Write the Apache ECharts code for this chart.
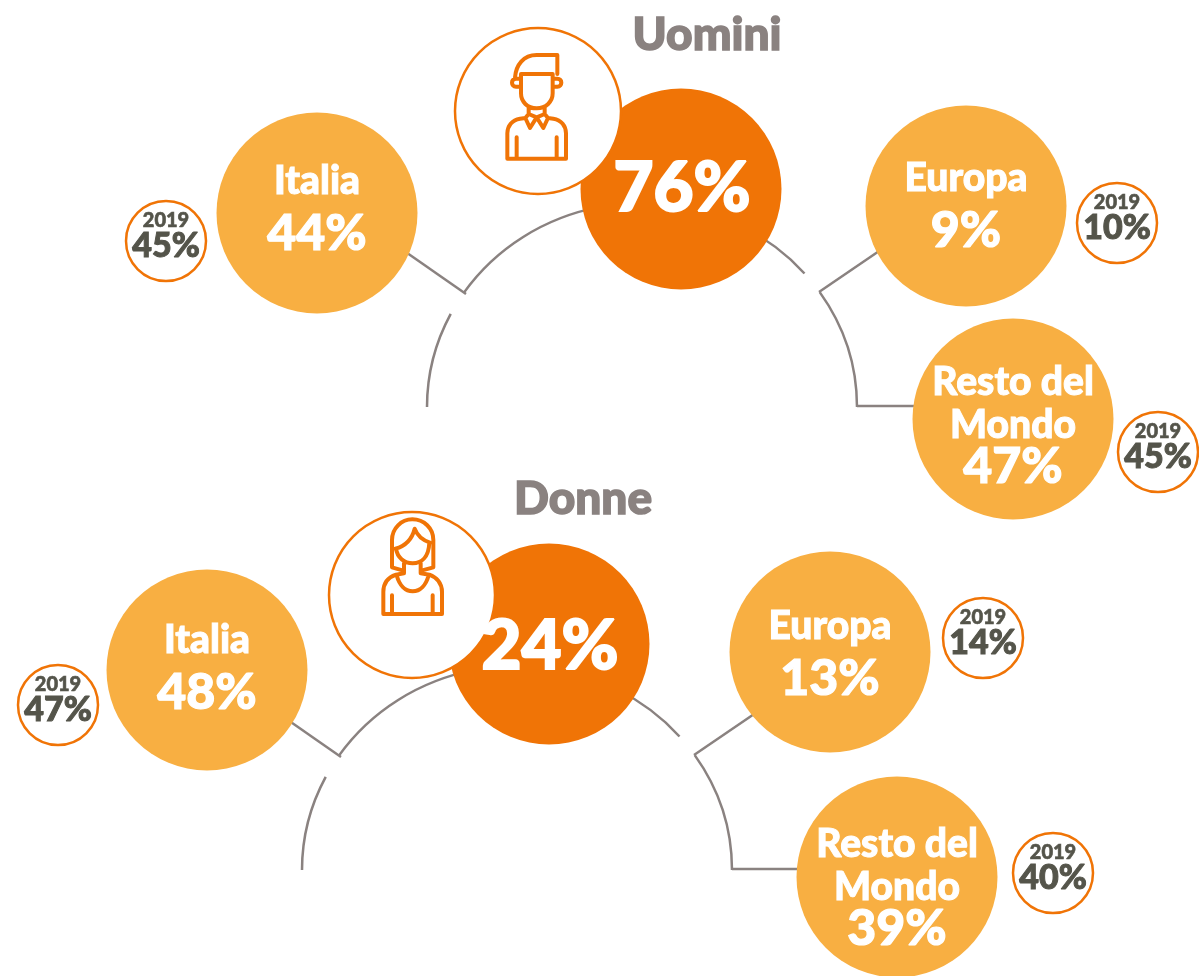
<!DOCTYPE html>
<html>
<head>
<meta charset="utf-8">
<title>Uomini e Donne</title>
<script src="https://cdn.jsdelivr.net/npm/echarts@6/dist/echarts.min.js"></script>
<style>
  html, body { margin: 0; padding: 0; background: #fff; }
  #chart { width: 1199px; height: 976px; }
</style>
</head>
<body>
<div id="chart"></div>
<script>
// valori
const aree = ['Italia', 'Europa', 'Resto del\nMondo'];
const uominiTotale = 76;
const donneTotale = 24;
const uominiValori = [44, 9, 47];
const donneValori = [48, 13, 39];
const uomini2019 = [45, 10, 45];
const donne2019 = [47, 14, 40];

// posizioni delle bolle (px)
const uominiPos = [[317, 213], [966, 206], [1013, 419]];
const donnePos = [[207, 670], [830, 652], [897, 877]];
const uomini2019Pos = [[166, 241], [1117, 223], [1158, 452]];
const donne2019Pos = [[58, 705], [983, 638], [1053, 873]];
const totaliPos = [[681, 189], [549, 644]];
const iconePos = [[538, 111], [412, 595]];
// spostamento verticale delle etichette
const uominiShift = [-4, 0, 5];
const donneShift = [-2, 2, 9];

const ORANGE = '#f07406';
const LIGHT = '#f8af42';
const GREY = '#8a8280';
const DARK = '#54544a';
const FONT = 'Lato, sans-serif';

const manIcon = 'M352 165 L352 222 M352 165 L290 165 C250 165 228 195 225 232 M243 222 L338 222 L338 280 C338 305 318 325 290 325 C262 325 243 305 243 280 Z ' +
  'M243 236 L228 236 C212 236 212 260 228 260 L243 260 M338 236 L352 236 C368 236 368 260 352 260 L338 260 ' +
  'M266 325 L266 342 M314 325 L314 342 M266 342 L290 352 L314 342 M266 342 L256 354 L270 384 L290 352 L310 384 L324 354 L314 342 ' +
  'M256 354 L240 356 C216 360 202 378 202 400 L202 476 L378 476 L378 400 C378 378 364 360 340 356 L324 354 ' +
  'M230 412 L230 476 M350 412 L350 476';
const womanIcon = 'M250 272 L216 262 L216 180 C216 145 244 118 277 118 C312 118 340 145 340 180 L340 262 L304 272 ' +
  'M226 206 C256 198 276 178 284 146 C292 168 306 180 330 188 ' +
  'M228 206 C232 232 252 250 278 250 C304 250 326 232 328 188 ' +
  'M252 250 L252 280 M302 250 L302 280 ' +
  'M252 280 L228 284 C204 292 190 310 190 336 L190 402 L366 402 L366 336 C366 310 350 292 328 284 L302 280 ' +
  'M230 286 C238 316 256 334 278 334 C300 334 318 316 326 286 ' +
  'M216 346 L216 402 M338 346 L338 402';

function seg(a, b) {
  return {
    type: 'line', z: 1,
    shape: { x1: a[0], y1: a[1], x2: b[0], y2: b[1] },
    style: { stroke: GREY, lineWidth: 2.5 }
  };
}
// tratto di ellisse fra due punti (px), centro del gruppo Uomini 642,407
function arco(a, b, dx, dy) {
  const ang = p => Math.atan2((p[1] - 407) / 204, (p[0] - 642) / 215);
  let s = ang(a);
  let e = ang(b);
  if (e < s) e += Math.PI * 2;
  return {
    type: 'arc', z: 1,
    x: 642 + dx, y: 407 + dy, scaleY: 204 / 215,
    shape: { cx: 0, cy: 0, r: 215, startAngle: s, endAngle: e, clockwise: true },
    style: { fill: null, stroke: GREY, lineWidth: 2.5 }
  };
}
// archi e raccordi di un gruppo, dx/dy rispetto a Uomini
function rami(dx, dy) {
  return [
    arco([427, 407], [451, 314], dx, dy),
    arco([465, 293], [600, 207], dx, dy),
    arco([750, 214], [805, 273], dx, dy),
    arco([820, 292], [857, 407], dx, dy),
    seg([400 + dx, 248 + dy], [466 + dx, 294 + dy]),
    seg([885 + dx, 247 + dy], [819 + dx, 292 + dy]),
    seg([857 + dx, 406 + dy], [925 + dx, 406 + dy])
  ];
}
function icona(d, pos, ox, oy, box) {
  return {
    type: 'custom', z: 10, silent: true,
    data: [pos],
    renderItem: (params, api) => {
      const c = api.coord([api.value(0), api.value(1)]);
      return {
        type: 'path',
        shape: {
          pathData: d, layout: 'cover',
          x: c[0] + (box[0] - ox) / 3, y: c[1] + (box[1] - oy) / 3,
          width: (box[2] - box[0]) / 3, height: (box[3] - box[1]) / 3
        },
        style: { fill: 'none', stroke: ORANGE, lineWidth: 4, lineJoin: 'round', lineCap: 'round' }
      };
    }
  };
}
function titolo(t, x, y) {
  return {
    type: 'text', z: 10, x: x, y: y,
    style: { text: t, fill: GREY, stroke: GREY, lineWidth: 1.5, font: '900 46px ' + FONT, textAlign: 'center', textVerticalAlign: 'middle' }
  };
}

function bolle(pos, valori, shift) {
  return pos.map((p, i) => ({
    value: [p[0], p[1]], name: aree[i], pct: valori[i],
    label: { offset: [0, shift[i]] }
  }));
}
function piccole(pos, valori) {
  return pos.map((p, i) => ({ value: [p[0], p[1]], pct: valori[i] }));
}
function bianco(size, lh, bordo) {
  return { color: '#fff', fontFamily: FONT, fontWeight: 900, fontSize: size, lineHeight: lh, textBorderColor: '#fff', textBorderWidth: bordo };
}
function scuro(size, lh, bordo) {
  return { color: DARK, fontFamily: FONT, fontWeight: 900, fontSize: size, lineHeight: lh, textBorderColor: DARK, textBorderWidth: bordo };
}

const chart = echarts.init(document.getElementById('chart'));
chart.setOption({
  animation: false,
  backgroundColor: '#fff',
  grid: { left: 0, right: 0, top: 0, bottom: 0 },
  xAxis: { type: 'value', min: 0, max: 1199, show: false },
  yAxis: { type: 'value', min: 0, max: 976, inverse: true, show: false },
  graphic: {
    elements: [
      ...rami(0, 0),
      ...rami(-125, 463),
      titolo('Uomini', 707, 35),
      titolo('Donne', 583, 499)
    ]
  },
  series: [
    {
      type: 'scatter', z: 3, clip: false, silent: true,
      symbol: 'circle', symbolSize: 201,
      itemStyle: { color: ORANGE, opacity: 1 },
      data: totaliPos
    },
    {
      type: 'scatter', z: 4, clip: false, silent: true,
      symbol: 'circle', symbolSize: 166,
      itemStyle: { color: '#fff', borderColor: ORANGE, borderWidth: 2.5, opacity: 1 },
      data: iconePos
    },
    icona(manIcon, iconePos[0], 294, 333, [202, 165, 378, 476]),
    icona(womanIcon, iconePos[1], 276, 345, [190, 118, 366, 402]),
    {
      // testo del totale sopra al cerchio dell'icona
      type: 'scatter', z: 5, clip: false, silent: true,
      symbol: 'circle', symbolSize: 1,
      itemStyle: { color: ORANGE, opacity: 1 },
      data: [
        { value: totaliPos[0], pct: uominiTotale, label: { offset: [1, 0] } },
        { value: totaliPos[1], pct: donneTotale, label: { offset: [1, 3] } }
      ],
      label: {
        show: true, position: 'inside', fontFamily: FONT,
        formatter: p => '{t|' + p.data.pct + '%}',
        rich: { t: bianco(69, 80, 2) }
      }
    },
    {
      type: 'scatter', z: 3, clip: false, silent: true,
      symbol: 'circle', symbolSize: 201,
      itemStyle: { color: LIGHT, opacity: 1 },
      data: [...bolle(uominiPos, uominiValori, uominiShift), ...bolle(donnePos, donneValori, donneShift)],
      label: {
        show: true, position: 'inside', fontFamily: FONT,
        formatter: p => {
          const righe = p.data.name.split('\n');
          const suf = righe.length > 1 ? '2' : '';
          return righe.map(r => '{n' + suf + '|' + r + '}').join('\n') + '\n{v' + suf + '|' + p.data.pct + '%}';
        },
        rich: {
          n: bianco(39, 50, 1),
          v: bianco(50, 56, 1.2),
          n2: bianco(39, 43, 1),
          v2: bianco(50, 40, 1.2)
        }
      }
    },
    {
      type: 'scatter', z: 3, clip: false, silent: true,
      symbol: 'circle', symbolSize: 80,
      itemStyle: { color: '#fff', borderColor: ORANGE, borderWidth: 2.5, opacity: 1 },
      data: [...piccole(uomini2019Pos, uomini2019), ...piccole(donne2019Pos, donne2019)],
      label: {
        show: true, position: 'inside', fontFamily: FONT, offset: [0, -4],
        formatter: p => '{a|2019}\n{b|' + p.data.pct + '%}',
        rich: {
          a: scuro(20, 18, 0.6),
          b: scuro(34, 32, 1)
        }
      }
    }
  ]
});
</script>
</body>
</html>
